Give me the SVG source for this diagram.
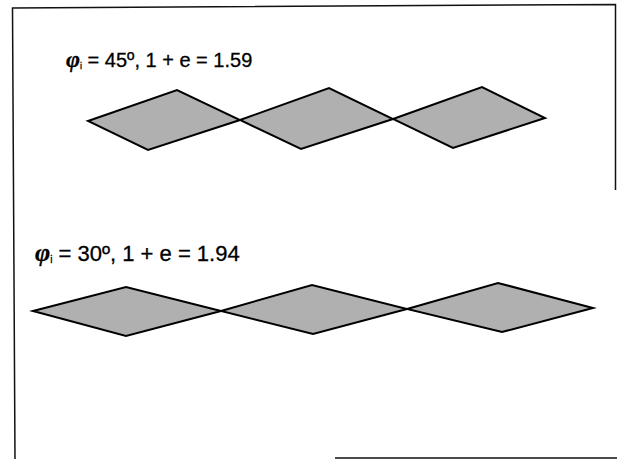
<svg xmlns="http://www.w3.org/2000/svg" width="617" height="459" viewBox="0 0 617 459">
<style>
.frame{fill:none;stroke:#111;stroke-width:1.5}
.dia{fill:#b0b0b0;stroke:#000;stroke-width:2;stroke-linejoin:miter}
.lbl{font-family:"Liberation Sans",Arial,sans-serif;fill:#000;stroke:#000;stroke-width:0.3}
.phi{font-family:"Liberation Serif","DejaVu Serif",serif;font-style:italic;font-weight:bold}
</style>
<rect width="617" height="459" fill="#fff"/>
<g id="frame">
<polyline class="frame" points="615.5,190 615.5,4.5 12.5,8 15,459"/>
<line class="frame" x1="335" y1="458" x2="617" y2="458"/>
</g>
<g id="row1">
<text id="label1" class="lbl" x="66" y="67" font-size="20"><tspan class="phi" font-size="24">φ</tspan><tspan font-size="9" dy="2">i</tspan><tspan dy="-2"> = 45º, 1 + e = 1.59</tspan></text>
<g id="r1d1"><polygon class="dia" points="88,121 177,90 240,120 148,150"/></g>
<g id="r1d2"><polygon class="dia" points="240,120 329,88 393,119 301,149"/></g>
<g id="r1d3"><polygon class="dia" points="393,119 482,87 545,118 453,148"/></g>
</g>
<g id="row2">
<text id="label2" class="lbl" x="35" y="261" font-size="22"><tspan class="phi" font-size="26">φ</tspan><tspan font-size="10" dy="2">i</tspan><tspan dy="-2"> = 30º, 1 + e = 1.94</tspan></text>
<g id="r2d1"><polygon class="dia" points="33,311 126,287 221,311 126,336"/></g>
<g id="r2d2"><polygon class="dia" points="221,311 312,285 407,309 313,334"/></g>
<g id="r2d3"><polygon class="dia" points="407,309 498,283 593,308 502,332"/></g>
</g>
</svg>
